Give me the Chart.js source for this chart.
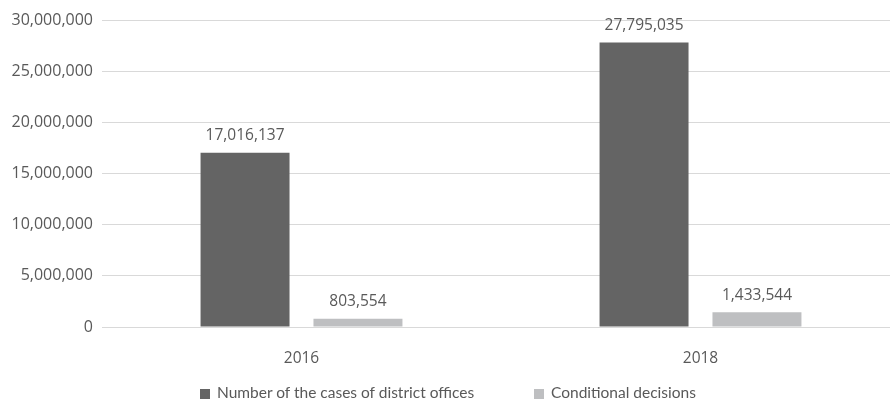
<!DOCTYPE html>
<html>
<head>
<meta charset="utf-8">
<script src="https://cdn.jsdelivr.net/npm/chart.js@4"></script>
<style>
    html, body { margin: 0; padding: 0; background: #ffffff; overflow: hidden; width: 890px; height: 400px; }
    /* the plot runs a little past the right edge, as in the original */
    #wrap { width: 900px; height: 400px; position: relative; }
    #legend { position: absolute; left: 0; top: 381px; width: 890px; height: 22px; font: 15.5px Lato, "Open Sans", sans-serif; color: #595959; }
    .legend-item { position: absolute; top: 0; white-space: nowrap; line-height: 22px; }
    .legend-item i { display: inline-block; width: 10px; height: 10px; margin-right: 7px; vertical-align: -1px; }
</style>
</head>
<body>
<div id="wrap"><canvas id="chart"></canvas><div id="legend"></div></div>
<script>
const years = ["2016", "2018"];
const casesDistrictOffices = [17016137, 27795035];
const conditionalDecisions = [803554, 1433544];
const seriesNames = ["Number of the cases of district offices", "Conditional decisions"];

const NUM_FONT = "'Open Sans', sans-serif";
const TEXT = "#595959";

// draws the value above each bar
const valueLabels = {
    id: "valueLabels",
    afterDatasetsDraw(chart) {
        const ctx = chart.ctx;
        ctx.save();
        ctx.font = `15.5px ${NUM_FONT}`;
        ctx.fillStyle = TEXT;
        ctx.textAlign = "center";
        ctx.textBaseline = "middle";
        chart.data.datasets.forEach((ds, i) => {
            chart.getDatasetMeta(i).data.forEach((bar, j) => {
                ctx.fillText(Number(ds.data[j]).toLocaleString("en-US"), bar.x, bar.y - 17);
            });
        });
        ctx.restore();
    }
};

const chart = new Chart(document.getElementById("chart"), {
    type: "bar",
    data: {
        labels: years,
        datasets: [
            { label: seriesNames[0], data: casesDistrictOffices, backgroundColor: "#646464" },
            { label: seriesNames[1], data: conditionalDecisions, backgroundColor: "#bebfc1" },
        ],
    },
    options: {
        responsive: true,
        maintainAspectRatio: false,
        animation: false,
        categoryPercentage: 0.566,
        barPercentage: 0.788,
        layout: { padding: { top: 20, right: 0, left: 0, bottom: 0 } },
        plugins: {
            legend: { display: false },
            tooltip: { enabled: false },
        },
        scales: {
            x: {
                afterFit: s => { s.height = 73; },
                grid: { display: false },
                border: { display: false },
                ticks: { color: TEXT, font: { family: NUM_FONT, size: 15.5 }, padding: 14 },
            },
            y: {
                min: 0,
                max: 30000000,
                afterFit: s => { s.width = 102; },
                grid: { color: "#d9d9d9", lineWidth: 1, drawTicks: false },
                border: { display: false },
                ticks: {
                    stepSize: 5000000,
                    padding: 9,
                    color: TEXT,
                    font: { family: NUM_FONT, size: 16 },
                    callback: v => Number(v).toLocaleString("en-US"),
                },
            },
        },
    },
    plugins: [valueLabels],
});

// legend under the plot, one item per dataset
const legendX = [200, 534];
document.getElementById("legend").innerHTML = chart.data.datasets.map((ds, i) => `
    <span class="legend-item" style="left:${legendX[i]}px"><i style="background:${ds.backgroundColor}"></i>${ds.label}</span>
`).join("");
</script>
</body>
</html>
